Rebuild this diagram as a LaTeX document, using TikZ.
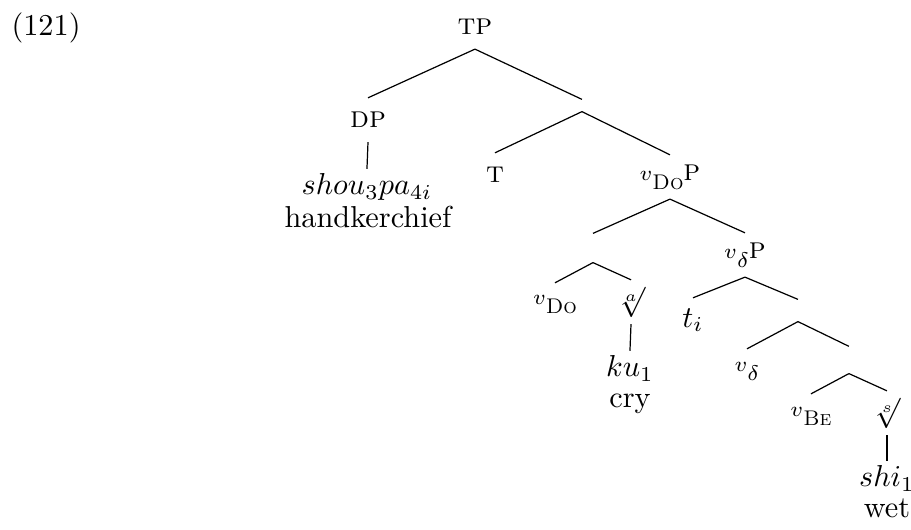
\documentclass[tikz,border=0pt]{standalone}
\usepackage{amsmath,amssymb}
\usepackage{tikz}
\usepackage{xcolor}

\newcommand{\lil}{\fontsize{7}{8}\selectfont}
\newcommand{\vcat}[1]{{\lil$v$\raisebox{-3pt}{#1}}}
\newcommand{\rt}[1]{$\sqrt[#1]{}$}

\tikzset{
  cat/.style={inner sep=0pt,minimum height=0.5cm},
  bar/.style={inner sep=0pt,minimum width=0pt,minimum height=#1},
  leaf/.style={inner sep=1.5pt},
  gloss/.style={inner sep=0pt},
}

\begin{document}
\begin{tikzpicture}[x=1cm,y=1cm,every node/.style={font=\normalsize}]
\useasboundingbox (0,0) rectangle (10.568,-6.148);
\node (ex) at (0.534,-0.325) {(121)};
% categories
\node[cat] (tp) at (5.510,-0.313) {\textsc{tp}};
\node[cat] (dp) at (4.269,-1.392) {\textsc{dp}};
\node[bar=0.128cm] (e1) at (6.751,-1.224) {};
\node[cat] (t) at (5.742,-2.030) {\textsc{t}};
\node[cat] (vdop) at (7.772,-2.053) {\vcat{\textsc{Do}}\textsc{p}};
\node[bar=0.325cm] (e2) at (6.879,-2.877) {};
\node[cat] (vdo) at (6.438,-3.538) {\vcat{\textsc{Do}}};
\node[cat] (rta) at (7.320,-3.503) {\rt{a}};
\node[cat] (vdp) at (8.642,-2.958) {\vcat{$\delta$}\textsc{p}};
\node[cat] (ti) at (8.039,-3.712) {$t_i$};
\node[bar=0.244cm] (e3) at (9.257,-3.602) {};
\node[cat] (vd) at (8.665,-4.304) {\vcat{$\delta$}};
\node[bar=0.302cm] (e4) at (9.848,-4.176) {};
\node[cat] (vbe) at (9.408,-4.826) {\vcat{\textsc{Be}}};
\node[cat] (rts) at (10.289,-4.791) {\rt{s}};
% leaves
\node[leaf,anchor=base] (shou) at (4.257,-2.262) {$shou_3pa_{4i}$};
\node[gloss,anchor=base] (gshou) at (4.269,-2.645) {handkerchief};
\node[leaf,anchor=base] (ku) at (7.308,-4.373) {$ku_1$};
\node[gloss,anchor=base] (gku) at (7.308,-4.733) {cry};
\node[leaf,anchor=base] (shi) at (10.289,-5.649) {$shi_1$};
\node[gloss,anchor=base] (gshi) at (10.289,-6.009) {wet};
% branches
\draw (tp.south) -- (dp.north);
\draw (tp.south) -- (e1.north);
\draw (dp.south) -- (shou.north);
\draw (e1.south) -- (t.north);
\draw (e1.south) -- (vdop.north);
\draw (vdop.south) -- (e2.north);
\draw (vdop.south) -- (vdp.north);
\draw (e2.south) -- (vdo.north);
\draw (e2.south) -- (rta.north);
\draw (rta.south) -- (ku.north);
\draw (vdp.south) -- (ti.north);
\draw (vdp.south) -- (e3.north);
\draw (e3.south) -- (vd.north);
\draw (e3.south) -- (e4.north);
\draw (e4.south) -- (vbe.north);
\draw (e4.south) -- (rts.north);
\draw (rts.south) -- (shi.north);
\end{tikzpicture}
\end{document}
